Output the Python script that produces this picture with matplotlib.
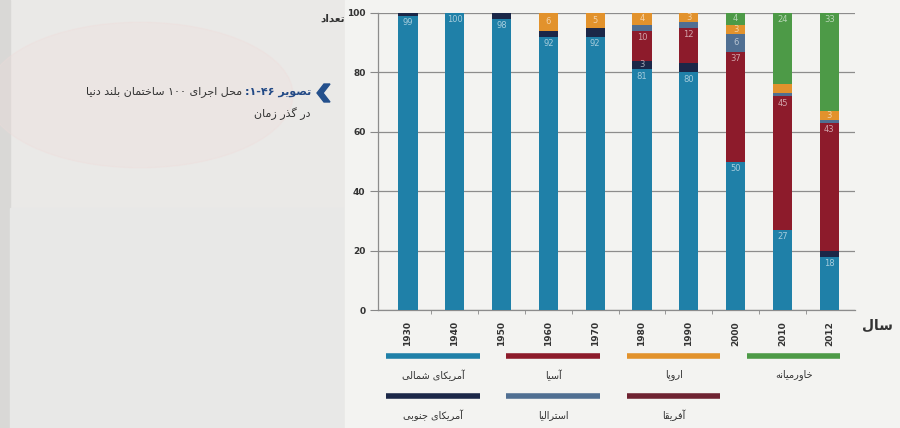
import matplotlib
matplotlib.use("Agg")
import matplotlib.pyplot as plt
import numpy as np
from matplotlib.lines import Line2D
from matplotlib.patches import Circle, Polygon, Rectangle

# tallest-100 buildings by region, stacked per year
years = ["1930", "1940", "1950", "1960", "1970", "1980", "1990", "2000", "2010", "2012"]
north_america = [99, 100, 98, 92, 92, 81, 80, 50, 27, 18]
south_america = [1, 0, 2, 2, 3, 3, 3, 0, 0, 2]
asia = [0, 0, 0, 0, 0, 10, 12, 37, 45, 43]
africa = [0, 0, 0, 0, 0, 0, 0, 0, 0, 0]
australia = [0, 0, 0, 0, 0, 2, 2, 6, 1, 1]
europe = [0, 0, 0, 6, 5, 4, 3, 3, 3, 3]
middle_east = [0, 0, 0, 0, 0, 0, 0, 4, 24, 33]

region_names = ["آمریکای شمالی", "آمریکای جنوبی", "آسیا", "آفریقا", "استرالیا", "اروپا", "خاورمیانه"]
region_colors = ["#1f80a8", "#1b2748", "#8d1b2b", "#6e2231", "#506f92", "#e2922c", "#4d9a47"]
series = [north_america, south_america, asia, africa, australia, europe, middle_east]

# segments left without a printed value
unlabeled = {(1, 2), (1, 3), (1, 4), (1, 6), (1, 9), (4, 5), (4, 6), (4, 8), (4, 9), (5, 8)}

caption_bold = "تصویر ۱-۴۶:"
caption_rest = "محل اجرای ۱۰۰ ساختمان بلند دنیا"
caption_line2 = "در گذر زمان"
y_title = "تعداد"
x_title = "سال"

# contextual forms: isolated, final, initial, medial
FORMS = {
    "ا": ("\uFE8D", "\uFE8E", None, None),
    "آ": ("\uFE81", "\uFE82", None, None),
    "ب": ("\uFE8F", "\uFE90", "\uFE91", "\uFE92"),
    "پ": ("\uFB56", "\uFB57", "\uFB58", "\uFB59"),
    "ت": ("\uFE95", "\uFE96", "\uFE97", "\uFE98"),
    "ج": ("\uFE9D", "\uFE9E", "\uFE9F", "\uFEA0"),
    "ح": ("\uFEA1", "\uFEA2", "\uFEA3", "\uFEA4"),
    "خ": ("\uFEA5", "\uFEA6", "\uFEA7", "\uFEA8"),
    "د": ("\uFEA9", "\uFEAA", None, None),
    "ذ": ("\uFEAB", "\uFEAC", None, None),
    "ر": ("\uFEAD", "\uFEAE", None, None),
    "ز": ("\uFEAF", "\uFEB0", None, None),
    "س": ("\uFEB1", "\uFEB2", "\uFEB3", "\uFEB4"),
    "ش": ("\uFEB5", "\uFEB6", "\uFEB7", "\uFEB8"),
    "ص": ("\uFEB9", "\uFEBA", "\uFEBB", "\uFEBC"),
    "ع": ("\uFEC9", "\uFECA", "\uFECB", "\uFECC"),
    "ف": ("\uFED1", "\uFED2", "\uFED3", "\uFED4"),
    "ق": ("\uFED5", "\uFED6", "\uFED7", "\uFED8"),
    "ک": ("\uFB8E", "\uFB8F", "\uFB90", "\uFB91"),
    "گ": ("\uFB92", "\uFB93", "\uFB94", "\uFB95"),
    "ل": ("\uFEDD", "\uFEDE", "\uFEDF", "\uFEE0"),
    "م": ("\uFEE1", "\uFEE2", "\uFEE3", "\uFEE4"),
    "ن": ("\uFEE5", "\uFEE6", "\uFEE7", "\uFEE8"),
    "ه": ("\uFEE9", "\uFEEA", "\uFEEB", "\uFEEC"),
    "و": ("\uFEED", "\uFEEE", None, None),
    "ی": ("\uFBFC", "\uFBFD", "\uFBFE", "\uFBFF"),
}
LTR_CHARS = set("۰۱۲۳۴۵۶۷۸۹0123456789-")


def rtl(text):
    shaped = []
    for i, ch in enumerate(text):
        if ch not in FORMS:
            shaped.append(ch)
            continue
        prev = text[i - 1] if i > 0 else ""
        nxt = text[i + 1] if i + 1 < len(text) else ""
        join_prev = prev in FORMS and FORMS[prev][2] is not None
        join_next = nxt in FORMS and FORMS[ch][2] is not None
        iso, fin, ini, med = FORMS[ch]
        if join_prev and join_next:
            shaped.append(med)
        elif join_prev:
            shaped.append(fin)
        elif join_next:
            shaped.append(ini)
        else:
            shaped.append(iso)
    # reverse for display, keeping digit runs left-to-right
    runs = []
    for ch in shaped:
        is_ltr = ch in LTR_CHARS
        if runs and runs[-1][0] == is_ltr:
            runs[-1][1].append(ch)
        else:
            runs.append((is_ltr, [ch]))
    out = ""
    for is_ltr, chars in reversed(runs):
        out += "".join(chars) if is_ltr else "".join(reversed(chars))
    return out


W, H = 900, 428
fig = plt.figure(figsize=(W / 100, H / 100), dpi=100)
fig.patch.set_facecolor("#eae9e7")


def fx(px):
    return px / W


def fy(py):
    return 1 - py / H


# page background pieces
fig.add_artist(Rectangle((0, 0), fx(10), 1, transform=fig.transFigure, color="#d9d8d6", zorder=0))
fig.add_artist(Circle((fx(140), fy(95)), 0.17, transform=fig.transFigure, color="#f0dcda", alpha=0.3, zorder=0))
fig.add_artist(Rectangle((fx(10), 0), fx(335), fy(208), transform=fig.transFigure, color="#e8e8e7", zorder=0))
fig.add_artist(Rectangle((fx(345), 0), fx(555), 1, transform=fig.transFigure, color="#f3f3f1", zorder=0))

ax = fig.add_axes([fx(378), fy(310), fx(477), fy(13) - fy(310)])
ax.set_facecolor("none")

x = np.arange(len(years))
bar_width = 0.41
bottom = np.zeros(len(years))
for s_idx, (values, color) in enumerate(zip(series, region_colors)):
    values = np.array(values, dtype=float)
    ax.bar(x, values, bar_width, bottom=bottom, color=color, zorder=3)
    for i, v in enumerate(values):
        if v < 3 or (s_idx, i) in unlabeled:
            continue
        top = bottom[i] + v
        if v < 8:
            ax.text(x[i], bottom[i] + v / 2, f"{int(v)}", ha="center", va="center",
                    fontsize=6, color="white", alpha=0.6, zorder=4)
        else:
            ax.text(x[i], top - 0.8, f"{int(v)}", ha="center", va="top",
                    fontsize=6, color="white", alpha=0.6, zorder=4)
    bottom += values

ax.set_xlim(-0.64, 9.55)
ax.set_ylim(0, 100)
ax.set_yticks([0, 20, 40, 60, 80, 100])
ax.set_yticklabels(["0", "20", "40", "60", "80", "100"], fontsize=6.5, fontweight="bold", color="#333333")
ax.set_xticks(x)
ax.set_xticklabels(years, rotation=90, fontsize=6.5, fontweight="bold", color="#333333")
ax.set_xticks(x[:-1] + 0.5, minor=True)
ax.tick_params(axis="x", which="major", length=0, pad=8)
ax.tick_params(axis="x", which="minor", length=3, color="#888888")
ax.tick_params(axis="y", length=6, color="#888888", pad=3)
ax.grid(axis="y", color="#8c8c8c", linewidth=0.9, zorder=1)
for side in ["top", "right"]:
    ax.spines[side].set_visible(False)
for side in ["left", "bottom"]:
    ax.spines[side].set_color("#8c8c8c")
    ax.spines[side].set_linewidth(0.9)

fig.text(fx(345), fy(19), rtl(y_title), ha="right", va="center", fontsize=7.5, fontweight="bold", color="#333333")
fig.text(fx(862), fy(326), rtl(x_title), ha="left", va="center", fontsize=10, fontweight="bold", color="#333333")

# legend: two rows of coloured bars with names underneath
legend_cols = [(386, 480), (506, 600), (627, 720), (747, 840)]
legend_order = [0, 2, 5, 6, 1, 4, 3]
for k, s_idx in enumerate(legend_order):
    row, col = divmod(k, 4)
    x0, x1 = legend_cols[col]
    line_y = 356 + row * 40
    fig.add_artist(Line2D([fx(x0), fx(x1)], [fy(line_y), fy(line_y)], transform=fig.transFigure,
                          color=region_colors[s_idx], linewidth=4, solid_capstyle="butt"))
    fig.text(fx((x0 + x1) / 2), fy(line_y + 19), rtl(region_names[s_idx]), ha="center", va="center",
             fontsize=7, color="#333333")

# caption with marker
fig.add_artist(Polygon([(fx(330), fy(84)), (fx(324), fy(84)), (fx(317), fy(93)), (fx(324), fy(102)), (fx(330), fy(102)), (fx(323), fy(93))],
                       closed=True, transform=fig.transFigure, color="#24508c"))
bold_txt = fig.text(fx(311), fy(92), rtl(caption_bold), ha="right", va="center", fontsize=8,
                    fontweight="bold", color="#234a86")
fig.canvas.draw()
bb = bold_txt.get_window_extent(renderer=fig.canvas.get_renderer())
fig.text(bb.x0 / W - fx(3), fy(92), rtl(caption_rest), ha="right", va="center", fontsize=8, color="#333333")
fig.text(fx(311), fy(114), rtl(caption_line2), ha="right", va="center", fontsize=8, color="#333333")

fig.savefig("out.png", dpi=100, facecolor=fig.get_facecolor())
